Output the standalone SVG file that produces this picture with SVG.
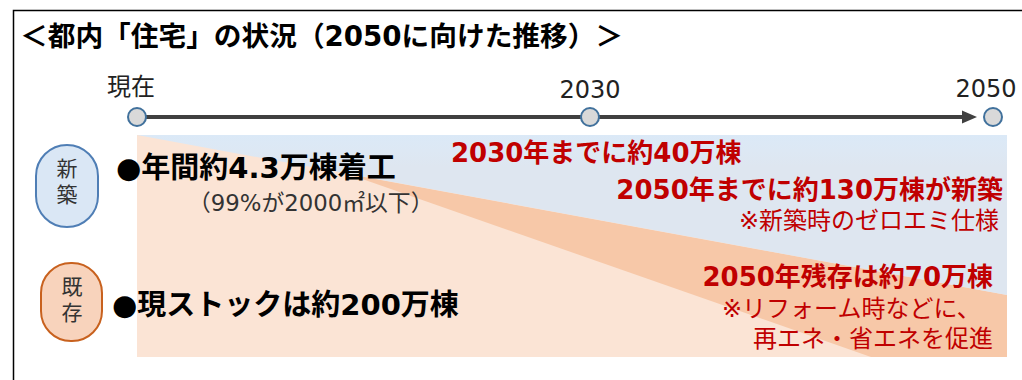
<svg xmlns="http://www.w3.org/2000/svg" width="1022" height="380" viewBox="0 0 1022 380">
<style>
  text { font-family: "DejaVu Sans", "Noto Sans CJK JP", sans-serif; }
  .title { font-size: 27.7px; font-weight: bold; fill: #000; }
  .tl { font-size: 24px; fill: #222; }
  .badge { font-size: 21px; fill: #333; text-anchor: middle; }
  .big { font-size: 29px; font-weight: bold; fill: #000; }
  .sub { font-size: 22.8px; fill: #333; }
  .red { font-size: 26px; font-weight: bold; fill: #c00000; }
  .redn { font-size: 24px; fill: #c00000; }
  .dot { fill: #d9d9d9; stroke: #41719c; stroke-width: 2; }
</style>
<defs>
  <linearGradient id="blueGrad" x1="0" y1="0" x2="0" y2="1">
    <stop offset="0" stop-color="#dbe9f7"/>
    <stop offset="0.1" stop-color="#dde8f4"/>
    <stop offset="0.2" stop-color="#dee6f0"/>
    <stop offset="1" stop-color="#dee6f0"/>
  </linearGradient>
</defs>
<rect width="1022" height="380" fill="#ffffff"/>
<path d="M13.5 380 V10.5 H1022" fill="none" stroke="#000" stroke-width="1.5"/>

<g id="title">
  <text class="title" x="20" y="46">＜都内「住宅」の状況（2050に向けた推移）＞</text>
</g>

<g id="background">
  <rect x="137" y="135" width="870" height="222" fill="#fbe4d5"/>
  <polygon points="348,174 1007,295 1007,357 871,357" fill="#f7c8a8"/>
  <polygon points="137,135 1007,135 1007,295" fill="url(#blueGrad)"/>
</g>

<g id="connectors">
  <line x1="146" y1="117" x2="964" y2="117" stroke="#404040" stroke-width="4"/>
  <polygon points="962,110.5 977,117 962,123.5" fill="#404040"/>
</g>

<g id="node-now">
  <circle class="dot" cx="137" cy="117" r="9"/>
  <text class="tl" x="107" y="95">現在</text>
</g>
<g id="node-2030">
  <circle class="dot" cx="590" cy="117" r="9"/>
  <text class="tl" x="590" y="98" text-anchor="middle">2030</text>
</g>
<g id="node-2050">
  <circle class="dot" cx="993" cy="117" r="9"/>
  <text class="tl" x="986" y="97" text-anchor="middle">2050</text>
</g>

<g id="badge-new">
  <rect x="36" y="145" width="62" height="82" rx="31" ry="31" fill="#dae7f5" stroke="#4f7eb5" stroke-width="2"/>
  <text class="badge" x="67" y="176">新</text>
  <text class="badge" x="67" y="202">築</text>
</g>
<g id="badge-existing">
  <rect x="41" y="263" width="61" height="78" rx="30" ry="30" fill="#f8d3bc" stroke="#c8611e" stroke-width="2"/>
  <text class="badge" x="72" y="294">既</text>
  <text class="badge" x="72" y="320">存</text>
</g>

<g id="new-text">
  <text class="big" x="116" y="178">●年間約4.3万棟着工</text>
  <text class="sub" x="188" y="211">（99%が2000㎡以下）</text>
</g>
<g id="existing-text">
  <text class="big" x="112" y="315">●現ストックは約200万棟</text>
</g>

<g id="red-2030">
  <text class="red" x="451" y="162">2030年までに約40万棟</text>
</g>
<g id="red-2050-new">
  <text class="red" x="1003" y="199" text-anchor="end">2050年までに約130万棟が新築</text>
  <text class="redn" x="999" y="229" text-anchor="end">※新築時のゼロエミ仕様</text>
</g>
<g id="red-2050-existing">
  <text class="red" x="993" y="286" text-anchor="end">2050年残存は約70万棟</text>
  <text class="redn" x="722" y="317">※リフォーム時などに、</text>
  <text class="redn" x="993" y="347" text-anchor="end">再エネ・省エネを促進</text>
</g>
</svg>
